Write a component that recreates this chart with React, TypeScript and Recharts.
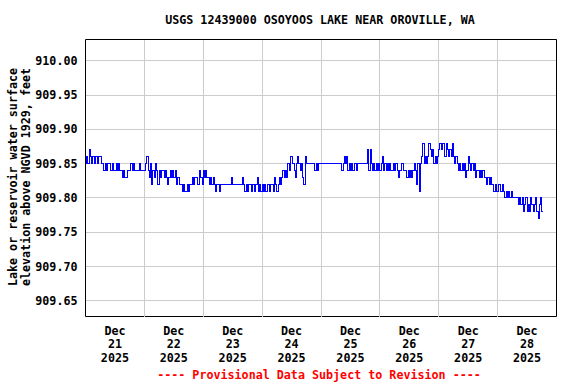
import { LineChart, Line, XAxis, YAxis, CartesianGrid, ReferenceLine, ReferenceArea } from 'recharts';

// half-hourly gage height readings, feet (NGVD 1929)
const dec21 = [
  909.85, 909.86, 909.85, 909.87, 909.86, 909.85, 909.86, 909.85, 909.86, 909.86, 909.85, 909.86,
  909.86, 909.85, 909.85, 909.84, 909.85, 909.84, 909.85, 909.85, 909.84, 909.84, 909.85, 909.84,
  909.84, 909.85, 909.84, 909.85, 909.84, 909.84, 909.83, 909.84, 909.83, 909.83, 909.84, 909.84,
  909.84, 909.85, 909.84, 909.85, 909.84, 909.84, 909.84, 909.84, 909.85, 909.84, 909.84, 909.84,
];
const dec22 = [
  909.84, 909.85, 909.86, 909.84, 909.83, 909.85, 909.82, 909.84, 909.83, 909.85, 909.84, 909.82,
  909.84, 909.83, 909.84, 909.84, 909.83, 909.84, 909.83, 909.82, 909.83, 909.84, 909.83, 909.84,
  909.83, 909.84, 909.82, 909.83, 909.83, 909.82, 909.82, 909.81, 909.82, 909.81, 909.81, 909.82,
  909.81, 909.82, 909.82, 909.83, 909.82, 909.83, 909.83, 909.82, 909.82, 909.84, 909.83, 909.82,
];
const dec23 = [
  909.84, 909.83, 909.84, 909.83, 909.83, 909.82, 909.83, 909.82, 909.83, 909.82, 909.81, 909.82,
  909.82, 909.81, 909.82, 909.82, 909.82, 909.82, 909.82, 909.82, 909.82, 909.82, 909.82, 909.83,
  909.82, 909.82, 909.82, 909.82, 909.82, 909.82, 909.82, 909.82, 909.83, 909.82, 909.81, 909.82,
  909.81, 909.82, 909.82, 909.81, 909.82, 909.82, 909.81, 909.82, 909.83, 909.81, 909.82, 909.81,
];
const dec24 = [
  909.82, 909.81, 909.82, 909.81, 909.82, 909.82, 909.81, 909.82, 909.82, 909.81, 909.83, 909.82,
  909.81, 909.82, 909.83, 909.82, 909.83, 909.84, 909.83, 909.84, 909.83, 909.85, 909.84, 909.86,
  909.86, 909.85, 909.84, 909.83, 909.85, 909.86, 909.85, 909.84, 909.85, 909.83, 909.82, 909.86,
  909.85, 909.85, 909.85, 909.85, 909.85, 909.85, 909.85, 909.84, 909.85, 909.84, 909.85, 909.85,
];
const dec25 = [
  909.85, 909.85, 909.85, 909.85, 909.85, 909.85, 909.85, 909.85, 909.85, 909.85, 909.85, 909.85,
  909.85, 909.85, 909.85, 909.85, 909.85, 909.84, 909.85, 909.86, 909.85, 909.86, 909.84, 909.85,
  909.84, 909.85, 909.84, 909.85, 909.85, 909.84, 909.85, 909.85, 909.85, 909.85, 909.85, 909.85,
  909.85, 909.85, 909.87, 909.84, 909.87, 909.85, 909.84, 909.85, 909.84, 909.85, 909.84, 909.85,
];
const dec26 = [
  909.84, 909.85, 909.86, 909.84, 909.85, 909.84, 909.85, 909.84, 909.85, 909.84, 909.84, 909.85,
  909.84, 909.85, 909.84, 909.83, 909.84, 909.84, 909.85, 909.84, 909.84, 909.84, 909.83, 909.84,
  909.83, 909.84, 909.83, 909.84, 909.85, 909.84, 909.82, 909.85, 909.81, 909.85, 909.86, 909.88,
  909.85, 909.86, 909.85, 909.86, 909.88, 909.87, 909.86, 909.87, 909.85, 909.86, 909.85, 909.86,
];
const dec27 = [
  909.87, 909.88, 909.87, 909.88, 909.88, 909.86, 909.88, 909.87, 909.86, 909.87, 909.86, 909.88,
  909.86, 909.85, 909.86, 909.85, 909.84, 909.85, 909.84, 909.85, 909.84, 909.85, 909.83, 909.84,
  909.86, 909.85, 909.84, 909.85, 909.84, 909.85, 909.83, 909.84, 909.84, 909.83, 909.84, 909.83,
  909.84, 909.83, 909.83, 909.82, 909.83, 909.82, 909.83, 909.82, 909.82, 909.81, 909.82, 909.81,
];
const dec28 = [
  909.81, 909.82, 909.81, 909.81, 909.82, 909.81, 909.80, 909.81, 909.80, 909.81, 909.80, 909.81,
  909.80, 909.80, 909.80, 909.80, 909.80, 909.79, 909.80, 909.79, 909.80, 909.78, 909.79, 909.80,
  909.78, 909.79, 909.78, 909.80, 909.79, 909.78, 909.79, 909.80, 909.78, 909.77, 909.79, 909.80,
  909.78, 909.78,
];

const days = [dec21, dec22, dec23, dec24, dec25, dec26, dec27, dec28];
const tickDays = [21, 22, 23, 24, 25, 26, 27, 28];
const gridDays = [22, 23, 24, 25, 26, 27, 28];
const yTicks = [909.65, 909.7, 909.75, 909.8, 909.85, 909.9, 909.95, 910.0];
const months = ['Jan', 'Feb', 'Mar', 'Apr', 'May', 'Jun', 'Jul', 'Aug', 'Sep', 'Oct', 'Nov', 'Dec'];

const DAY = 86400000;
const STEP = DAY / 48;
const START = Date.UTC(2025, 11, 21);
const END = Date.UTC(2025, 11, 29);
const Y_MIN = 909.627;
const Y_MAX = 910.031;

const data = days.flatMap((vals, d) =>
  vals.map((v, i) => ({ t: START + d * DAY + i * STEP, v }))
);

const font = {
  fontFamily: '"DejaVu Sans Mono", monospace',
  fontWeight: 'bold' as const,
  fontSize: 11.7,
  fill: '#000',
};

function DayTick(props: any) {
  const { x, y, payload } = props;
  const d = new Date(payload.value);
  return (
    <text x={x} y={y} textAnchor="middle" style={font}>
      <tspan x={x} dy={10}>{months[d.getUTCMonth()]}</tspan>
      <tspan x={x} dy={13.7}>{d.getUTCDate()}</tspan>
      <tspan x={x} dy={13.7}>{d.getUTCFullYear()}</tspan>
    </text>
  );
}

export default function App() {
  return (
    <div style={{ position: 'absolute', left: 0, top: 0, width: 576, height: 384, background: '#fff' }}>
      <LineChart
        width={576}
        height={384}
        data={data}
        margin={{ top: 39.5, right: 19.5, left: 0.5, bottom: 7.5 }}
      >
        <CartesianGrid vertical={false} stroke="#cccccc" shapeRendering="crispEdges" />
        {gridDays.map((d) => (
          <ReferenceLine key={d} x={Date.UTC(2025, 11, d)} stroke="#cccccc" shapeRendering="crispEdges" />
        ))}
        <XAxis
          dataKey="t"
          type="number"
          domain={[START, END]}
          ticks={tickDays.map((d) => Date.UTC(2025, 11, d, 12))}
          allowDataOverflow
          axisLine={false}
          tickLine={false}
          height={60}
          tick={<DayTick />}
          interval={0}
        />
        <YAxis
          type="number"
          domain={[Y_MIN, Y_MAX]}
          ticks={yTicks}
          allowDataOverflow
          axisLine={false}
          tickLine={false}
          width={85}
          tick={font}
          tickFormatter={(v: number) => v.toFixed(2)}
          interval={0}
        />
        <Line
          type="stepAfter"
          dataKey="v"
          stroke="#0000ff"
          strokeWidth={1}
          dot={false}
          shapeRendering="crispEdges"
          isAnimationActive={false}
        />
        <ReferenceArea x1={START} x2={END} y1={Y_MIN} y2={Y_MAX} fill="none" stroke="#000" strokeWidth={1} />
      </LineChart>
      <svg width={576} height={384} style={{ position: 'absolute', left: 0, top: 0, pointerEvents: 'none' }}>
        <text x={320} y={24} textAnchor="middle" style={font}>
          USGS 12439000 OSOYOOS LAKE NEAR OROVILLE, WA
        </text>
        <text transform="translate(16.5,177) rotate(-90)" textAnchor="middle" style={font}>
          Lake or reservoir water surface
        </text>
        <text transform="translate(30,177) rotate(-90)" textAnchor="middle" style={font}>
          elevation above NGVD 1929, feet
        </text>
        <text x={319} y={379} textAnchor="middle" style={{ ...font, fill: '#ff0000' }}>
          ---- Provisional Data Subject to Revision ----
        </text>
      </svg>
    </div>
  );
}
